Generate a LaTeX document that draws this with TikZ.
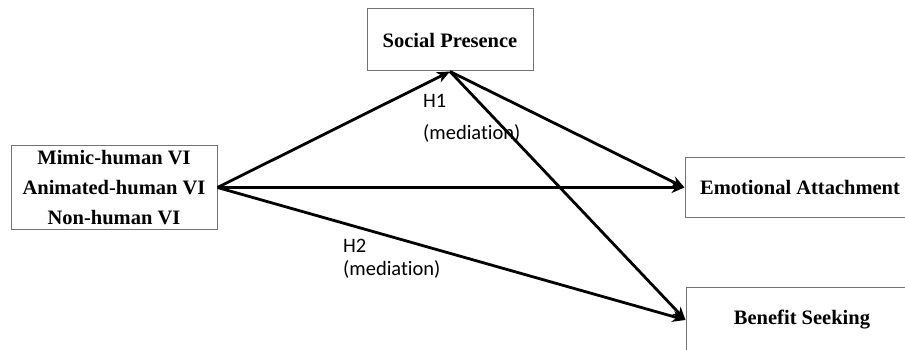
\documentclass[tikz,border=0pt]{standalone}
\usepackage{fontspec}
\setmainfont{Liberation Serif}
\newfontfamily\lblfont[Ligatures=NoCommon]{Carlito}
\usetikzlibrary{arrows.meta}
\begin{document}
\begin{tikzpicture}[x=1pt,y=-1pt,
  box/.style={draw=black!55,line width=1pt,rectangle,inner sep=0pt,
    font=\fontsize{20.5}{30}\selectfont\bfseries,align=center},
  arr/.style={line width=2.8pt,-{Stealth[length=13pt,width=11pt,inset=4pt]}},
  lbl/.style={font=\lblfont\fontsize{20.5}{24}\selectfont,anchor=base west,inner sep=0pt}]
\useasboundingbox (0,0) rectangle (905,350);
\clip (0,0) rectangle (905,350);
\fill[white] (0,0) rectangle (905,350);
\node[box,minimum width=206pt,minimum height=83pt] (vi) at (114,187.5)
  {Mimic-human VI\\Animated-human VI\\Non-human VI};
\node[box,minimum width=166pt,minimum height=62pt] (sp) at (450,40) {Social Presence};
\node[box,minimum width=232pt,minimum height=59pt] (ea) at (801,187.5) {};
\node[font=\fontsize{20.5}{30}\selectfont\bfseries] (eat) at (800,187.5) {Emotional Attachment};
\node[box,minimum width=232pt,minimum height=70pt] (bs) at (802,322) {};
\node[font=\fontsize{20.5}{30}\selectfont\bfseries] (bst) at (802,320) {Benefit Seeking};
\draw[arr] (vi.east) -- (sp.south);
\draw[arr] (vi.east) -- (ea.west);
\draw[arr] (vi.east) -- (bs.west |- bst.west);
\draw[arr] (sp.south) -- (ea.west);
\draw[arr] (sp.south) -- (bs.west |- bst.west);
\node[lbl] (h1) at (423,108) {H1};
\node[lbl] (m1) at (423,140) {(mediation)};
\node[lbl] (h2) at (343,252) {H2};
\node[lbl] (m2) at (343,275) {(mediation)};
\end{tikzpicture}
\end{document}
